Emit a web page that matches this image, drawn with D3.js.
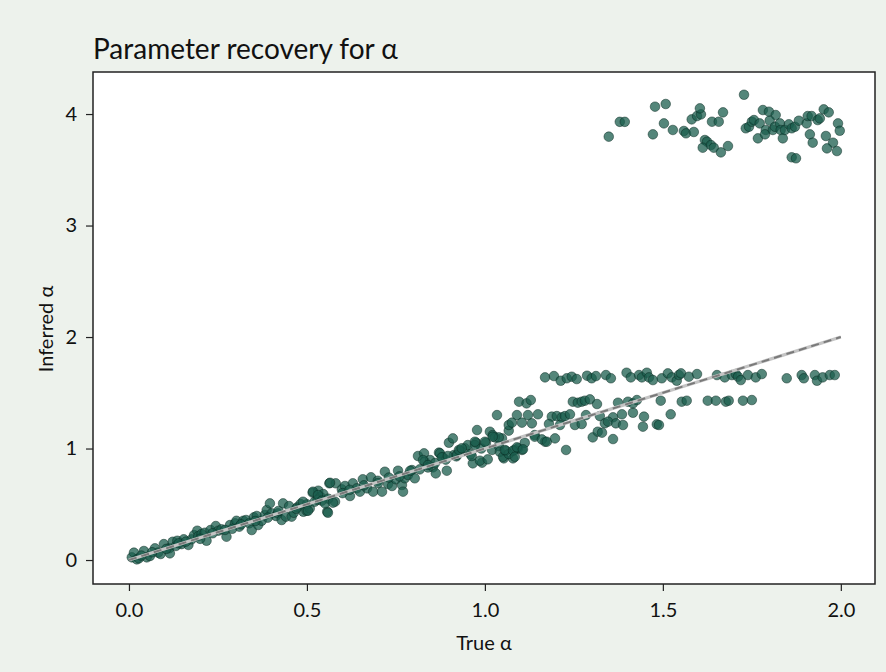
<!DOCTYPE html>
<html>
<head>
<meta charset="utf-8">
<script src="https://cdn.jsdelivr.net/npm/d3@7"></script>
<style>
  body { margin: 0; background: #edf2ec; }
  svg { display: block; }
  text { font-family: Futura, "Century Gothic", Lato, sans-serif; fill: #111; }
</style>
</head>
<body>
<svg id="chart" width="886" height="672"></svg>
<script>
// true vs inferred alpha
const trueAlpha = [
  0.008,0.014,0.022,0.028,0.042,0.05,0.059,0.073,0.082,0.089,0.098,0.113,0.115,0.123,0.132,0.136,0.148,0.154,0.167,0.176,
  0.183,0.192,0.195,0.204,0.218,0.213,0.229,0.244,0.251,0.26,0.274,0.284,0.298,0.302,0.31,0.321,0.329,0.338,0.345,0.351,
  0.359,0.363,0.373,0.382,0.387,0.396,0.401,0.413,0.419,0.429,0.433,0.441,0.45,0.457,0.463,0.473,0.482,0.49,0.499,0.508,
  0.516,0.522,0.532,0.538,0.546,0.557,0.563,0.581,0.579,
  0.035,0.065,0.105,0.14,0.16,0.2,0.235,0.27,0.29,0.315,0.355,0.39,0.42,0.47,0.5,0.53,0.56,
  0.489,0.503,0.517,0.531,0.542,0.551,0.559,0.565,0.573,0.598,0.607,0.621,0.629,0.64,0.649,0.657,0.669,0.68,0.686,0.699,
  0.711,0.719,0.728,0.739,0.75,0.756,0.767,0.775,0.77,0.784,0.795,0.803,0.812,0.817,0.829,0.831,0.846,0.854,0.862,0.871,
  0.882,0.893,0.899,0.91,0.913,0.93,0.944,0.952,0.966,0.975,0.978,0.992,1.003,1.014,1.02,1.039,1.048,1.053,1.067,1.079,1.084,
  0.6,0.62,0.66,0.7,0.73,0.76,0.79,0.84,0.86,0.89,0.92,0.96,0.99,
  0.826,0.84,0.874,0.879,0.896,0.921,0.927,0.935,0.963,0.972,0.986,1.008,1.042,1.051,1.059,1.067,1.093,1.104,1.112,0.972,
  1.022,1.028,1.039,1.14,1.169,
  1.034,1.09,1.121,1.149,1.188,1.202,1.216,1.225,1.239,1.284,1.323,1.36,1.385,1.416,1.447,1.522,
  1.067,1.076,1.104,1.132,1.18,1.211,1.253,1.272,1.337,1.346,1.368,1.388,1.444,1.483,1.489,
  1.022,1.14,1.16,1.174,1.197,1.303,1.317,1.329,1.36,1.228,1.0,1.056,1.079,1.09,1.107,1.084,
  1.096,1.117,1.129,1.247,1.261,1.272,1.281,1.295,1.315,1.374,1.402,1.416,1.427,1.494,1.553,1.567,1.626,1.649,1.677,1.685,
  1.725,1.75,
  1.169,1.194,1.213,1.23,1.244,1.258,1.287,1.3,1.312,1.34,1.354,1.398,1.41,1.433,1.441,1.455,1.461,1.472,1.497,1.514,
  1.525,1.539,1.545,1.551,1.573,1.596,1.652,1.674,1.694,1.705,1.711,1.719,1.739,1.761,1.778,1.848,1.89,1.896,1.927,1.933,
  1.949,1.969,1.983,
  1.348,1.379,1.393,1.478,1.508,1.472,1.503,1.528,1.559,1.565,1.587,1.581,1.596,1.607,1.604,1.618,1.624,1.612,1.635,1.643,
  1.663,1.683,1.638,1.657,1.669,1.728,1.733,1.742,1.75,1.756,1.772,1.767,1.781,1.798,1.817,1.8,1.789,1.787,1.809,1.815,
  1.829,1.831,1.837,1.843,1.854,1.862,1.871,1.882,1.904,1.907,1.918,1.935,1.941,1.913,1.921,1.952,1.966,1.958,1.978,1.961,
  1.989,1.992,1.997,1.862,1.874
];
const inferredAlpha = [
  0.024,0.066,0.006,0.015,0.081,0.024,0.036,0.105,0.066,0.054,0.143,0.105,0.06,0.164,0.126,0.173,0.143,0.186,0.135,0.186,
  0.224,0.263,0.215,0.233,0.173,0.245,0.269,0.305,0.263,0.275,0.209,0.314,0.329,0.352,0.299,0.352,0.359,0.329,0.269,0.383,
  0.395,0.314,0.352,0.404,0.448,0.508,0.419,0.395,0.419,0.359,0.508,0.389,0.484,0.389,0.424,0.473,0.502,0.433,0.442,0.463,
  0.604,0.523,0.622,0.568,0.592,0.433,0.688,0.688,0.523,
  0.04,0.07,0.1,0.15,0.165,0.19,0.24,0.27,0.28,0.32,0.35,0.38,0.44,0.46,0.5,0.54,0.55,
  0.523,0.442,0.613,0.583,0.532,0.508,0.424,0.693,0.514,0.634,0.664,0.574,0.688,0.643,0.613,0.724,0.643,0.742,0.613,0.711,
  0.613,0.792,0.682,0.664,0.724,0.801,0.673,0.733,0.613,0.762,0.807,0.733,0.933,0.813,0.957,0.882,0.897,0.831,0.777,0.963,
  0.921,0.801,1.052,1.091,0.942,0.98,1.002,1.031,0.867,1.052,1.166,0.873,1.052,1.151,0.987,1.022,1.091,0.912,1.16,0.912,0.987,
  0.6,0.63,0.67,0.69,0.74,0.75,0.8,0.83,0.87,0.9,0.93,0.95,1.0,
  0.897,0.852,0.957,0.921,0.933,0.942,0.987,1.002,0.933,1.031,0.891,0.903,0.971,0.926,0.98,0.951,1.002,0.987,1.052,1.061,
  1.121,1.1,1.1,1.121,1.061,
  1.3,1.3,1.3,1.307,1.286,1.291,1.28,1.291,1.307,1.3,1.291,1.28,1.307,1.321,1.286,1.307,
  1.211,1.232,1.232,1.226,1.22,1.211,1.211,1.22,1.226,1.241,1.226,1.211,1.196,1.217,1.211,
  1.106,1.106,1.082,1.061,1.091,1.1,1.151,1.142,1.085,0.987,1.061,0.987,0.981,1.011,0.993,0.926,
  1.42,1.405,1.435,1.42,1.411,1.42,1.429,1.441,1.399,1.411,1.42,1.405,1.435,1.429,1.42,1.429,1.429,1.429,1.42,1.429,
  1.429,1.435,
  1.638,1.65,1.608,1.63,1.644,1.623,1.653,1.63,1.65,1.659,1.63,1.68,1.638,1.659,1.638,1.68,1.638,1.614,1.63,1.674,
  1.638,1.608,1.659,1.674,1.644,1.668,1.659,1.638,1.659,1.668,1.644,1.614,1.659,1.638,1.668,1.63,1.659,1.63,1.659,1.608,
  1.638,1.659,1.659,
  3.797,3.93,3.93,4.066,4.09,3.818,3.916,3.857,3.848,3.827,3.839,3.952,3.982,3.997,4.051,3.767,3.752,3.698,3.722,3.698,
  3.656,3.713,3.931,3.931,4.015,4.173,3.872,3.886,3.931,3.946,3.916,3.782,4.036,4.021,3.991,3.94,3.857,3.818,3.857,3.886,
  3.916,3.857,3.782,3.857,3.908,3.872,3.886,3.94,3.916,3.982,3.982,3.946,3.961,3.818,3.743,4.042,4.015,3.803,3.743,3.692,
  3.668,3.916,3.85,3.612,3.603
];
const identityLine = [0, 2];
const xTicks = [0, 0.5, 1, 1.5, 2];
const yTicks = [0, 1, 2, 3, 4];

const points = trueAlpha.map((t, i) => ({ t, v: inferredAlpha[i] }));

const plot = { left: 93, right: 875, top: 72, bottom: 584 };
const svg = d3.select("#chart");

const x = d3.scaleLinear().domain([-0.101, 2.096]).range([plot.left, plot.right]);
const y = d3.scaleLinear().domain([-0.215, 4.377]).range([plot.bottom, plot.top]);

svg.append("rect")
  .attr("width", 886).attr("height", 672)
  .attr("fill", "#edf2ec");

svg.append("rect")
  .attr("x", plot.left).attr("y", plot.top)
  .attr("width", plot.right - plot.left).attr("height", plot.bottom - plot.top)
  .attr("fill", "#fff");

// scatter
svg.append("g")
  .selectAll("circle")
  .data(points)
  .enter()
  .append("circle")
  .attr("cx", d => x(d.t))
  .attr("cy", d => y(d.v))
  .attr("r", 4.8)
  .attr("fill", "#1b5e4e")
  .attr("fill-opacity", 0.75)
  .attr("stroke", "#06251d")
  .attr("stroke-opacity", 0.6)
  .attr("stroke-width", 0.8);

// identity line: light solid under dark dashes
const line = d3.line().x(d => x(d)).y(d => y(d));
svg.append("path")
  .attr("d", line(identityLine))
  .attr("fill", "none")
  .attr("stroke", "#c4c4c4")
  .attr("stroke-width", 3.2);
svg.append("path")
  .attr("d", line(identityLine))
  .attr("fill", "none")
  .attr("stroke", "#7a7a7a")
  .attr("stroke-width", 2)
  .attr("stroke-dasharray", "8,5");

// axes
const xAxis = svg.append("g")
  .attr("transform", `translate(0,${plot.bottom})`)
  .call(d3.axisBottom(x).tickValues(xTicks).tickFormat(d3.format(".1f")).tickSize(7).tickPadding(12));
const yAxis = svg.append("g")
  .attr("transform", `translate(${plot.left},0)`)
  .call(d3.axisLeft(y).tickValues(yTicks).tickFormat(d3.format("d")).tickSize(7).tickPadding(9));

[xAxis, yAxis].forEach(g => {
  g.select(".domain").remove();
  g.selectAll("line").attr("stroke", "#222").attr("stroke-width", 1.2);
  g.selectAll("text").attr("font-size", 20).attr("fill", "#111");
});

// frame
svg.append("rect")
  .attr("x", plot.left).attr("y", plot.top)
  .attr("width", plot.right - plot.left).attr("height", plot.bottom - plot.top)
  .attr("fill", "none")
  .attr("stroke", "#222")
  .attr("stroke-width", 1.5);

// labels
svg.append("text")
  .attr("x", plot.left).attr("y", 59)
  .attr("font-size", 28)
  .text("Parameter recovery for α");

svg.append("text")
  .attr("x", (plot.left + plot.right) / 2).attr("y", 650)
  .attr("text-anchor", "middle")
  .attr("font-size", 20)
  .text("True α");

svg.append("text")
  .attr("transform", "translate(53,329) rotate(-90)")
  .attr("text-anchor", "middle")
  .attr("font-size", 20)
  .text("Inferred α");
</script>
</body>
</html>
